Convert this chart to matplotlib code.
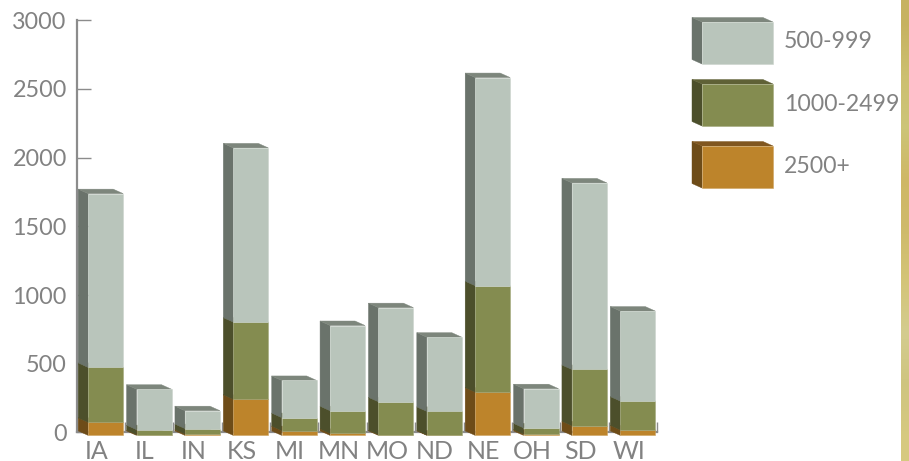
import matplotlib
matplotlib.use('Agg')
import numpy as np
import matplotlib.pyplot as plt
from matplotlib.colors import to_rgb
from matplotlib.patches import Polygon

plt.rcParams['font.family'] = ['Lato', 'DejaVu Sans']

states = ['IA', 'IL', 'IN', 'KS', 'MI', 'MN', 'MO', 'ND', 'NE', 'OH', 'SD', 'WI']
# farms per size class, stacked from the bottom up
farms_2500 = [95, 5, 10, 263, 35, 15, 5, 3, 315, 10, 70, 40]
farms_1000 = [400, 37, 40, 562, 95, 165, 240, 172, 775, 45, 410, 210]
farms_500 = [1265, 294, 130, 1268, 270, 620, 685, 540, 1515, 285, 1358, 655]
classes = ['500-999', '1000-2499', '2500+']

yticks = [0, 500, 1000, 1500, 2000, 2500, 3000]

# front, side, top
light = ('#b9c5bb', '#6a736b', '#7d867c')
green = ('#848c50', '#4c4f2b', '#5f6136')
orange = ('#bd842b', '#6e4c18', '#80561f')

GREY = '#828282'
AXIS = '#8c8c8c'
W, H = 909, 461
# plot area in pixels
L, R, T, B = 76.5, 657, 20.3, 432.4

fig = plt.figure(figsize=(W / 100, H / 100), dpi=100)
ax = fig.add_axes([L / W, 1 - B / H, (R - L) / W, (B - T) / H])
ax.set_xlim(0, len(states))
ax.set_ylim(0, 3000)
ax.patch.set_alpha(0)

px_x = len(states) / (R - L)
px_y = 3000 / (B - T)


def lighter(col, amount=0.25):
    c = np.array(to_rgb(col))
    return tuple(c + (1 - c) * amount)


def box(a, x0, x1, y0, y1, cols, dx, dy):
    # side and top first, the front face goes over them
    a.add_patch(Polygon([(x0, y0), (x0 - dx, y0 + dy), (x0 - dx, y1 + dy), (x0, y1)],
                        fc=cols[1], ec=cols[1], lw=0.3, clip_on=False, zorder=3))
    a.add_patch(Polygon([(x0, y1), (x0 - dx, y1 + dy), (x1 - dx, y1 + dy), (x1, y1)],
                        fc=cols[2], ec=cols[2], lw=0.3, clip_on=False, zorder=3))
    a.add_patch(Polygon([(x0, y0), (x1, y0), (x1, y1), (x0, y1)],
                        fc=cols[0], ec=lighter(cols[0]), lw=0.4, clip_on=False, zorder=4))


dx = 10 * px_x
dy = 4.5 * px_y
bar_w = 35 * px_x
for i in range(len(states)):
    x0 = i + 0.5 - bar_w / 2 + 5 * px_x
    x1 = x0 + bar_w
    base = -3 * px_y
    for val, cols in zip((farms_2500[i], farms_1000[i], farms_500[i]), (orange, green, light)):
        box(ax, x0, x1, base, base + val, cols, dx, dy)
        base += val

for s in ('top', 'right'):
    ax.spines[s].set_visible(False)
for s in ('left', 'bottom'):
    ax.spines[s].set_color(AXIS)
    ax.spines[s].set_linewidth(1.6)

ax.set_yticks(yticks)
ax.set_xticks(np.arange(len(states) + 1))
ax.set_xticklabels([])
ax.tick_params(axis='y', direction='in', length=10, width=1, color=AXIS,
               labelcolor=GREY, labelsize=16.8, pad=7)
ax.tick_params(axis='x', direction='in', length=7, width=1, color=AXIS)

# state names sit under the back edge of each bar
for i, st in enumerate(states):
    ax.annotate(st, (i + 0.5, 0), xytext=(-3, -19), textcoords='offset points',
                ha='center', va='baseline', color=GREY, fontsize=18)

# overlay in pixel units for the key and the side stripe
over = fig.add_axes([0, 0, 1, 1])
over.set_xlim(0, W)
over.set_ylim(H, 0)
over.axis('off')
over.patch.set_alpha(0)

for top, label, cols in zip((22, 84, 146), classes, (light, green, orange)):
    box(over, 702, 773, top + 42, top, cols, 10, -4.5)
    over.text(784, top + 20, label, color=GREY, fontsize=16.6, va='center', ha='left')

stripe = np.array([[0.78, 0.70, 0.38], [0.80, 0.75, 0.44], [0.80, 0.77, 0.47],
                   [0.81, 0.72, 0.40], [0.81, 0.73, 0.42], [0.83, 0.77, 0.47],
                   [0.83, 0.80, 0.56], [0.81, 0.77, 0.50], [0.84, 0.79, 0.50]])
over.imshow(stripe[:, None, :], extent=(901, W, H, 0), aspect='auto', interpolation='bilinear')
over.set_xlim(0, W)
over.set_ylim(H, 0)

fig.savefig('out.png', dpi=100)
